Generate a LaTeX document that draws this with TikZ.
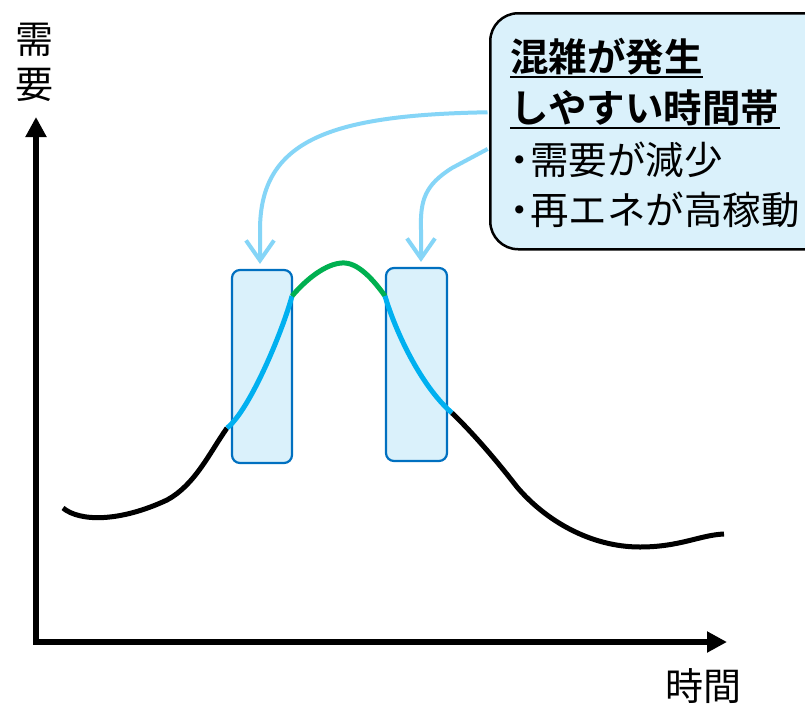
\documentclass[tikz,border=0pt]{standalone}
\usepackage{fontspec}
\usetikzlibrary{arrows.meta}
\newfontfamily\jp{Noto Sans CJK JP}
\newfontfamily\jpbold{Noto Sans CJK JP Bold}
\definecolor{boxfill}{HTML}{DAF1FB}
\definecolor{rectborder}{HTML}{0070C0}
\definecolor{curveblue}{HTML}{00B0F0}
\definecolor{curvegreen}{HTML}{00B050}
\definecolor{arrowblue}{HTML}{85D5F7}
\tikzset{
  zone/.style={draw=rectborder, fill=boxfill, line width=2.2pt, rounded corners=8pt, minimum width=60pt, minimum height=193pt, inner sep=0pt},
  callout/.style={draw=black, fill=boxfill, line width=2.5pt, rounded corners=28pt, inner sep=0pt},
  pointer/.style={draw=arrowblue, line width=4pt, -{Straight Barb[length=20pt,width=28pt]}, shorten >=5pt, shorten <=1.5pt},
  axis/.style={line width=5.5pt, line join=miter, {Triangle[length=20pt,width=20pt]}-{Triangle[length=20pt,width=20pt]}},
  curveline/.style={line width=5pt},
  boxtext/.style={anchor=base west, inner sep=0pt, font=\jp\fontsize{38.5}{44}\selectfont},
  boxtitle/.style={anchor=base west, inner sep=0pt, font=\jpbold\fontsize{38.5}{44}\selectfont},
  axislabel/.style={inner sep=0pt, align=center, font=\jp\fontsize{38}{45}\selectfont}
}
\begin{document}
\begin{tikzpicture}[x=1pt,y=-1pt]
\clip (0,0) rectangle (805,704);
\fill[white] (0,0) rectangle (805,704);

% axes
\coordinate (Ytop) at (36,117);
\coordinate (O) at (36,642);
\coordinate (Xend) at (727,642);
\draw[axis] (Ytop) -- (O) -- (Xend);
\node[axislabel] (ylab) at (34,62) {需\\要};
\node[axislabel] (xlab) at (703,686) {時間};

% zones
\node[zone] (L) at (262,366.5) {};
\node[zone, minimum width=61pt] (R) at (416.5,364.5) {};

% demand curve
\draw[curveline, black] (63,508) .. controls (80,522) and (120,522) .. (167,500)
   .. controls (195,485) and (210,452) .. (227,428);
\draw[curveline, curveblue] (227,428) .. controls (250,410) and (283,330) .. (292,296);
\draw[curveline, curvegreen] (292,296) .. controls (310,275) and (330,262) .. (345,263)
   .. controls (360,264) and (375,282) .. (385,296);
\draw[curveline, curveblue] (385,296) .. controls (395,330) and (420,385) .. (452,413);
\draw[curveline, black] (452,413) .. controls (475,435) and (500,465) .. (517,487)
   .. controls (545,520) and (590,547) .. (640,547)
   .. controls (680,547) and (700,535) .. (724,534);

% callout
\node[callout, anchor=north west, minimum width=360pt, minimum height=236pt] (C) at (489,12) {};
\draw[pointer] ([yshift=19pt]C.west) .. controls (330,115) and (260,140) .. (260,230) -- ([xshift=-2pt]L.north);
\draw[pointer] ([yshift=-17pt]C.west) -- (452,168) .. controls (425,185) and (420,200) .. (421,230) -- ([xshift=4.5pt]R.north);

\node[boxtitle] (t1) at (510,71) {混雑が発生};
\node[boxtitle] (t2) at (510,122) {しやすい時間帯};
\draw[line width=2.2pt] ([yshift=-6pt]t1.base west) -- ([yshift=-6pt]t1.base east);
\draw[line width=2.2pt] ([yshift=-6pt]t2.base west) -- ([yshift=-6pt]t2.base east);
\node[boxtext] (t3) at (510,174) {\makebox[20pt]{・}需要が減少};
\node[boxtext] (t4) at (510,224) {\makebox[20pt]{・}再エネが高稼動};
\end{tikzpicture}
\end{document}
